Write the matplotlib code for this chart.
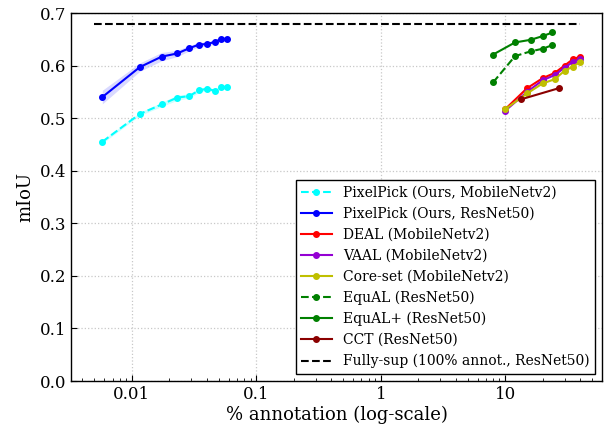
import numpy as np
import matplotlib
matplotlib.use('Agg')
import matplotlib.pyplot as plt

# PixelPick: 10..100 labelled pixels per image
pp_x = [0.00578, 0.01156, 0.01734, 0.02312, 0.0289, 0.03468, 0.04046, 0.04624, 0.05202, 0.0578]
pp_mbv2 = [0.455, 0.508, 0.526, 0.539, 0.542, 0.553, 0.556, 0.552, 0.559, 0.559]
pp_mbv2_std = [0.003, 0.003, 0.004, 0.005, 0.004, 0.004, 0.003, 0.003, 0.003, 0.003]
pp_r50 = [0.540, 0.597, 0.617, 0.623, 0.633, 0.640, 0.641, 0.645, 0.650, 0.651]
pp_r50_std = [0.013, 0.008, 0.008, 0.006, 0.005, 0.004, 0.004, 0.004, 0.003, 0.003]

# active learning baselines (MobileNetv2)
al_x = [10, 15, 20, 25, 30, 35, 40]
deal = [0.517, 0.557, 0.576, 0.586, 0.600, 0.612, 0.617]
vaal = [0.514, 0.550, 0.572, 0.582, 0.596, 0.607, 0.612]
coreset = [0.517, 0.547, 0.566, 0.574, 0.590, 0.598, 0.607]

equal_x = [8, 12, 16, 20, 24]
equal = [0.568, 0.618, 0.627, 0.632, 0.639]
equal_plus = [0.621, 0.644, 0.649, 0.656, 0.663]

cct_x = [13.5, 27]
cct = [0.536, 0.557]

fully_sup = 0.679
fully_sup_x = [0.005, 40]

plt.rcParams['font.family'] = 'DejaVu Serif'
plt.rcParams['mathtext.fontset'] = 'dejavuserif'

fig = plt.figure(figsize=(6.06, 4.26), dpi=100)
ax = fig.add_axes([71 / 606, 1 - 381 / 426, 531 / 606, 368 / 426])

ms = 4
lw = 1.5

# PixelPick curves with std bands
ax.fill_between(pp_x, np.array(pp_mbv2) - pp_mbv2_std, np.array(pp_mbv2) + pp_mbv2_std,
                color='cyan', alpha=0.2, linewidth=0)
ax.plot(pp_x, pp_mbv2, '--', color='cyan', marker='o', ms=ms, lw=lw,
        label='PixelPick (Ours, MobileNetv2)')
ax.fill_between(pp_x, np.array(pp_r50) - pp_r50_std, np.array(pp_r50) + pp_r50_std,
                color='blue', alpha=0.15, linewidth=0)
ax.plot(pp_x, pp_r50, '-', color='blue', marker='o', ms=ms, lw=lw,
        label='PixelPick (Ours, ResNet50)')

ax.plot(al_x, deal, '-', color='red', marker='o', ms=ms, lw=lw, label='DEAL (MobileNetv2)')
ax.plot(al_x, vaal, '-', color='darkviolet', marker='o', ms=ms, lw=lw, label='VAAL (MobileNetv2)')
ax.plot(al_x, coreset, '-', color='y', marker='o', ms=ms, lw=lw, label='Core-set (MobileNetv2)')
ax.plot(equal_x, equal, '--', color='green', marker='o', ms=ms, lw=lw, label='EquAL (ResNet50)')
ax.plot(equal_x, equal_plus, '-', color='green', marker='o', ms=ms, lw=lw, label='EquAL+ (ResNet50)')
ax.plot(cct_x, cct, '-', color='darkred', marker='o', ms=ms, lw=lw, label='CCT (ResNet50)')
ax.plot(fully_sup_x, [fully_sup, fully_sup], '--', color='black', lw=lw,
        label='Fully-sup (100% annot., ResNet50)')

ax.set_xscale('log')
ax.set_xlim(0.00324, 60)
ax.set_ylim(0.0, 0.7)
ax.set_yticks(np.arange(0, 0.71, 0.1))
ax.set_xticks([0.01, 0.1, 1, 10])
ax.set_xticklabels(['0.01', '0.1', '1', '10'])

ax.grid(True, which='major', linestyle=':', color='#c8c8c8', linewidth=0.9)
ax.tick_params(which='both', direction='in', labelsize=12)
ax.tick_params(which='minor', length=2.5)
ax.tick_params(which='major', length=4)
for s in ax.spines.values():
    s.set_linewidth(1.0)

ax.set_xlabel('% annotation (log-scale)', fontsize=13, labelpad=2)
ax.set_ylabel('mIoU', fontsize=13)

leg = ax.legend(loc='lower right', fontsize=10, fancybox=False, edgecolor='black',
                framealpha=1, handlelength=2.2, borderaxespad=0.5, labelspacing=0.5)
leg.get_frame().set_linewidth(1.0)

fig.savefig('out.png', dpi=100)
